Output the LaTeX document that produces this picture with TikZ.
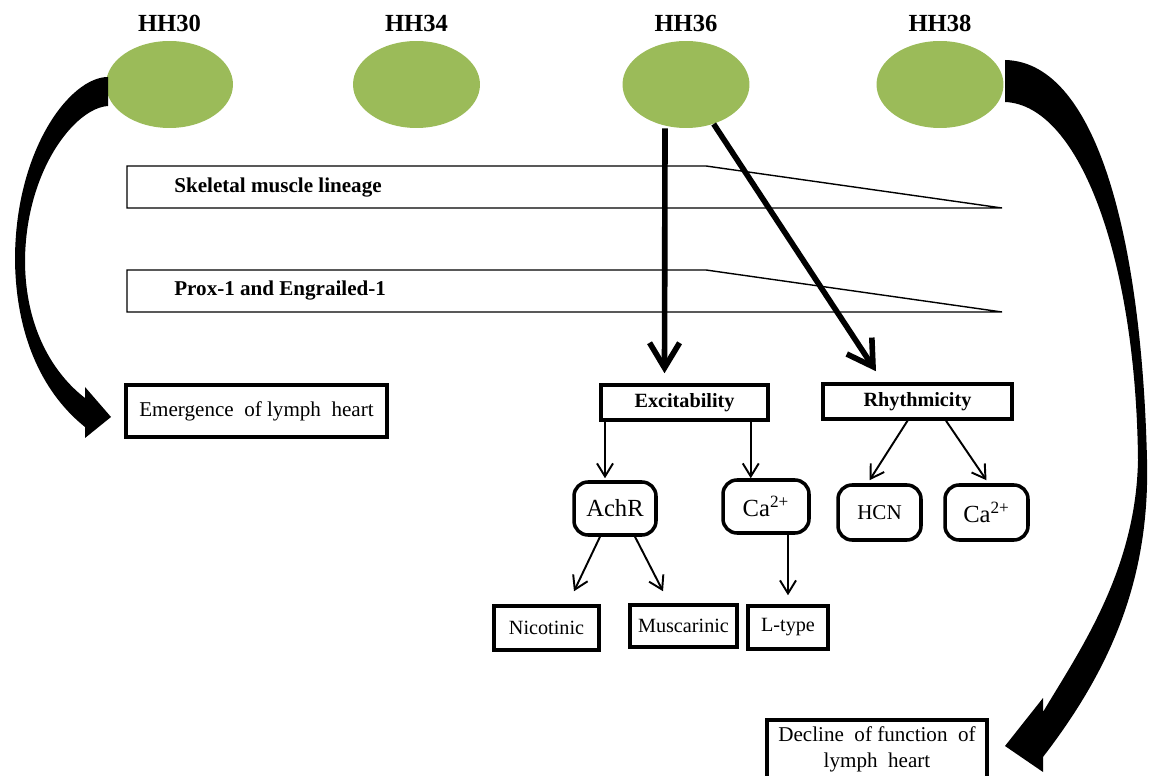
\documentclass[tikz,border=0pt]{standalone}
\usepackage{fontspec}
\setmainfont{Liberation Serif}
\usetikzlibrary{arrows.meta, positioning, shapes.geometric}
\definecolor{stagegreen}{RGB}{155,187,89}

\begin{document}
\begin{tikzpicture}[x=0.02cm, y=-0.02cm,
  stage/.style={ellipse, fill=stagegreen, minimum width=2.54cm, minimum height=1.74cm, inner sep=0pt},
  stagelabel/.style={font=\fontsize{14}{16}\selectfont\bfseries, inner sep=0pt, above=0.18cm of #1},
  box/.style={draw, line width=2pt, inner sep=0pt, align=center},
  rbox/.style={box, rounded corners=8pt},
  bigarrow/.style={line width=3.2pt, -{Straight Barb[length=5mm, width=6mm]}},
  smallarrow/.style={line width=1.1pt, -{Straight Barb[length=2.6mm, width=3.2mm]}}]
\useasboundingbox (0,0) rectangle (1153,776);

% stages
\node[stage] (e30) at (169.5,84.5) {};
\node[stage] (e34) at (416.5,84.5) {};
\node[stage] (e36) at (686,84.5) {};
\node[stage] (e38) at (940,84.5) {};
\node[stagelabel=e30] (hh30) {HH30};
\node[stagelabel=e34] (hh34) {HH34};
\node[stagelabel=e36] (hh36) {HH36};
\node[stagelabel=e38] (hh38) {HH38};

% expression bands
\draw[line width=0.8pt] (127,166) -- (706,166) -- (1002,208) -- (127,208) -- cycle;
\draw[line width=0.8pt] (127,270) -- (706,270) -- (1002,312) -- (127,312) -- cycle;
\node[anchor=west, inner sep=0pt, font=\fontsize{12}{14}\selectfont\bfseries] (skm) at (174,188) {Skeletal muscle lineage};
\node[anchor=west, inner sep=0pt, font=\fontsize{12}{14}\selectfont\bfseries] (prox) at (174,291) {Prox-1 and Engrailed-1};

% boxes
\node[box, minimum width=5.22cm, minimum height=1.04cm, font=\fontsize{12}{14}\selectfont] (emerge) at (256.5,411) {Emergence\ \ of lymph\ \ heart};
\node[box, minimum width=3.34cm, minimum height=0.7cm, font=\fontsize{11.5}{13}\selectfont\bfseries] (exc) at (684.5,402.5) {Excitability};
\node[box, minimum width=3.78cm, minimum height=0.7cm, font=\fontsize{11.5}{13}\selectfont\bfseries] (rhy) at (917.5,401.5) {Rhythmicity};
\node[rbox, minimum width=1.64cm, minimum height=1.06cm, font=\fontsize{14}{16}\selectfont] (achr) at (615,508.5) {AchR};
\node[rbox, minimum width=1.72cm, minimum height=1.06cm, font=\fontsize{14}{16}\selectfont] (ca1) at (766,506.5) {Ca\textsuperscript{2+}};
\node[rbox, minimum width=1.66cm, minimum height=1.1cm, font=\fontsize{12}{14}\selectfont] (hcn) at (879.5,512.5) {HCN};
\node[rbox, minimum width=1.66cm, minimum height=1.1cm, font=\fontsize{14}{16}\selectfont] (ca2) at (986.5,512.5) {Ca\textsuperscript{2+}};
\node[box, minimum width=2.1cm, minimum height=0.88cm, font=\fontsize{11.5}{13}\selectfont] (nic) at (546.5,628) {Nicotinic};
\node[box, minimum width=2.14cm, minimum height=0.84cm, font=\fontsize{11.5}{13}\selectfont] (mus) at (683.5,626) {Muscarinic};
\node[box, minimum width=1.6cm, minimum height=0.86cm, font=\fontsize{11.5}{13}\selectfont] (ltype) at (788,627.5) {L-type};
\node[box, anchor=north, minimum width=4.4cm, minimum height=1.2cm, font=\fontsize{12}{14.8}\selectfont] (decline) at (877,718) {Decline\ \ of function\ \ of\\lymph\ \ heart};

% arrows from HH36
\draw[bigarrow] ([xshift=-0.42cm]e36.south) -- ([xshift=-0.4cm, yshift=0.2cm]exc.north);
\draw[bigarrow] (e36.-55) -- ([xshift=-0.83cm, yshift=0.22cm]rhy.north);

% branches
\draw[smallarrow] ([xshift=-0.2cm]exc.south -| achr.north) -- ([xshift=-0.2cm, yshift=0.04cm]achr.north);
\draw[smallarrow] ([xshift=-0.38cm]exc.south east) -- ([xshift=-0.38cm]exc.south east |- ca1.north);
\draw[smallarrow] ([xshift=-0.2cm]rhy.south) -- ([xshift=-0.2cm, yshift=0.06cm]hcn.north);
\draw[smallarrow] ([xshift=0.57cm]rhy.south) -- ([yshift=0.06cm]ca2.north);
\draw[smallarrow] ([xshift=-0.3cm]achr.south) -- ([xshift=0.55cm, yshift=0.26cm]nic.north);
\draw[smallarrow] ([xshift=0.4cm]achr.south) -- ([xshift=-0.41cm, yshift=0.24cm]mus.north);
\draw[smallarrow] (ca1.south -| ltype.north) -- ([yshift=0.18cm]ltype.north);

% curved arrows
\fill (108,77) .. controls (70,77) and (15,150) .. (15,260) .. controls (16,340) and (45,395) .. (85,427)
  -- (85,438) -- (111,417) -- (85,387) -- (85,398)
  .. controls (55,375) and (25,330) .. (25,260) .. controls (26,170) and (75,108) .. (108,106) -- cycle;
\fill (1005,60) .. controls (1100,62) and (1142,250) .. (1147,460) .. controls (1150,580) and (1110,670) .. (1043,757)
  -- (1043,772) -- (1005,746) -- (1043,698) -- (1043,712)
  .. controls (1080,650) and (1136,570) .. (1138,460) .. controls (1136,260) and (1080,105) .. (1005,102) -- cycle;
\end{tikzpicture}
\end{document}
